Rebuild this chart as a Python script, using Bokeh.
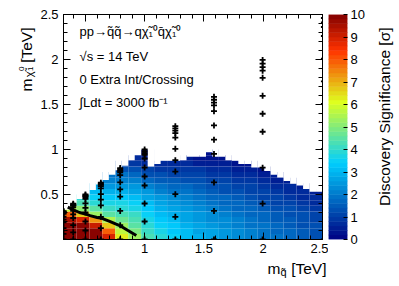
import numpy as np
from bokeh.plotting import figure
from bokeh.models import ColumnDataSource, Range1d, FixedTicker, LinearAxis, Label
from bokeh.layouts import row, column
from bokeh.embed import file_html
from bokeh.resources import INLINE
from bokeh.transform import linear_cmap

FONT = "Liberation Sans"

# ---------------- data ----------------
x_lo, x_hi = 0.316, 2.5          # squark mass range [TeV]
y_lo, y_hi = 0.0, 2.5            # neutralino mass range [TeV]
n_bands = 20                     # squark-mass bands of the significance map
row_h = 0.0625                   # neutralino-mass row height [TeV]

# discovery significance per squark-mass band (rows from m_chi = 0 upward)
sig_0p37 = [12.0, 11.5, 10.8, 9.5, 7.8, 5.8, 4.6]
sig_0p48 = [12.0, 11.5, 10.5, 8.8, 6.6, 5.0, 4.3, 3.8]
sig_0p59 = [11.0, 10.4, 9.2, 7.2, 5.2, 4.4, 3.9, 3.5, 3.1, 2.7]
sig_0p70 = [8.8, 7.8, 6.6, 5.4, 4.6, 4.1, 3.7, 3.3, 2.9, 2.5, 2.1, 1.8]
sig_0p81 = [6.3, 5.8, 5.3, 4.7, 4.3, 3.9, 3.6, 3.3, 2.9, 2.5, 2.1, 1.8, 1.4, 1.1]
sig_0p92 = [5.2, 4.9, 4.6, 4.3, 4.0, 3.7, 3.4, 3.0, 2.7, 2.4, 2.0, 1.6, 1.25, 0.9, 0.6]
sig_1p03 = [4.3, 4.15, 3.95, 3.75, 3.5, 3.25, 3.0, 2.7, 2.4, 2.05, 1.7, 1.35, 1.0, 0.7, 0.5, 0.35]
sig_1p14 = [3.8, 3.7, 3.55, 3.35, 3.15, 2.9, 2.65, 2.4, 2.1, 1.8, 1.5, 1.2, 0.9, 0.6]
sig_1p24 = [3.45, 3.35, 3.2, 3.05, 2.85, 2.65, 2.4, 2.2, 1.95, 1.7, 1.45, 1.15, 0.9, 0.6]
sig_1p35 = [3.15, 3.05, 2.95, 2.8, 2.6, 2.45, 2.25, 2.05, 1.8, 1.6, 1.35, 1.1, 0.85, 0.6, 0.4]
sig_1p46 = [2.9, 2.8, 2.7, 2.55, 2.4, 2.25, 2.05, 1.9, 1.7, 1.5, 1.25, 1.05, 0.8, 0.55, 0.35]
sig_1p57 = [2.65, 2.6, 2.5, 2.35, 2.2, 2.05, 1.9, 1.75, 1.55, 1.35, 1.15, 0.95, 0.75, 0.5, 0.32, 0.25]
sig_1p68 = [2.45, 2.4, 2.3, 2.2, 2.05, 1.9, 1.75, 1.6, 1.4, 1.25, 1.05, 0.85, 0.65, 0.45, 0.3]
sig_1p79 = [2.25, 2.2, 2.1, 2.0, 1.9, 1.75, 1.6, 1.45, 1.3, 1.1, 0.95, 0.75, 0.55, 0.35]
sig_1p90 = [2.1, 2.05, 1.95, 1.85, 1.75, 1.6, 1.45, 1.3, 1.15, 1.0, 0.8, 0.6, 0.45, 0.3]
sig_2p01 = [1.95, 1.9, 1.8, 1.7, 1.6, 1.45, 1.3, 1.15, 1.0, 0.85, 0.65, 0.5, 0.35]
sig_2p12 = [1.8, 1.75, 1.65, 1.55, 1.45, 1.3, 1.15, 1.0, 0.85, 0.7, 0.55, 0.4]
sig_2p23 = [1.7, 1.65, 1.55, 1.45, 1.35, 1.2, 1.05, 0.9, 0.75, 0.6, 0.45]
sig_2p34 = [1.55, 1.5, 1.4, 1.3, 1.2, 1.05, 0.9, 0.75, 0.6, 0.48]
sig_2p45 = [1.4, 1.35, 1.25, 1.15, 1.05, 0.9, 0.75, 0.6, 0.48]
sig_columns = [sig_0p37, sig_0p48, sig_0p59, sig_0p70, sig_0p81, sig_0p92, sig_1p03,
               sig_1p14, sig_1p24, sig_1p35, sig_1p46, sig_1p57, sig_1p68, sig_1p79,
               sig_1p90, sig_2p01, sig_2p12, sig_2p23, sig_2p34, sig_2p45]

# upper edge of the non-zero significance region, 40 narrow squark-mass columns
region_top = [0.33, 0.39, 0.45, 0.50, 0.55, 0.61, 0.66, 0.72, 0.77, 0.82, 0.88, 0.94,
              1.00, 0.81, 0.84, 0.88, 0.88, 0.88, 0.88, 0.92, 0.92, 0.92, 0.97, 0.92,
              0.92, 0.88, 0.88, 0.84, 0.84, 0.80, 0.80, 0.76, 0.72, 0.69, 0.65, 0.62,
              0.60, 0.56, 0.53, 0.53]

# 5 sigma contour
contour_x = [0.352, 0.40, 0.45, 0.51, 0.54, 0.60, 0.64, 0.70, 0.76, 0.80, 0.86, 0.93]
contour_y = [0.36, 0.33, 0.30, 0.28, 0.265, 0.245, 0.235, 0.205, 0.17, 0.148, 0.10, 0.045]

# signal grid points (squark mass, neutralino masses)
grid_msq = [0.316, 0.398, 0.501, 0.631, 0.794, 1.0, 1.259, 1.585, 1.995, 2.512]
grid_mchi = [
    [0, 0.063, 0.126, 0.19, 0.221, 0.253, 0.285, 0.297, 0.304, 0.31, 0.316],
    [0, 0.08, 0.159, 0.239, 0.279, 0.318, 0.358, 0.374, 0.382, 0.39, 0.398],
    [0, 0.1, 0.2, 0.3, 0.351, 0.401, 0.451, 0.471, 0.481, 0.491, 0.501],
    [0, 0.126, 0.252, 0.379, 0.442, 0.505, 0.568, 0.593, 0.606, 0.618, 0.631],
    [0, 0.159, 0.318, 0.477, 0.556, 0.635, 0.715, 0.747, 0.763, 0.778, 0.794],
    [0, 0.2, 0.4, 0.6, 0.7, 0.8, 0.9, 0.94, 0.96, 0.98, 1.0],
    [0, 0.252, 0.504, 0.755, 0.881, 1.007, 1.133, 1.183, 1.209, 1.234, 1.259],
    [0, 0.317, 0.634, 0.951, 1.109, 1.268, 1.426, 1.49, 1.521, 1.553, 1.585],
    [0, 0.399, 0.798, 1.197, 1.397, 1.596, 1.796, 1.876, 1.915, 1.955, 1.995],
    [0, 0.502, 1.005, 1.507, 1.758, 2.009, 2.261, 2.361, 2.411, 2.461, 2.512],
]

x_major = [0.5, 1.0, 1.5, 2.0, 2.5]
x_major_labels = ["0.5", "1", "1.5", "2", "2.5"]
y_major = [0.5, 1.0, 1.5, 2.0, 2.5]
y_major_labels = ["0.5", "1", "1.5", "2", "2.5"]
z_major = [0, 1, 2, 3, 4, 5, 6, 7, 8, 9, 10]
z_lo, z_hi = 0, 10

# ---------------- palette (ROOT-style rainbow) ----------------
stops = [0.0, 0.34, 0.61, 0.84, 1.0]
red = [0.0, 0.0, 0.87, 1.0, 0.51]
green = [0.0, 0.81, 1.0, 0.2, 0.0]
blue = [0.51, 1.0, 0.12, 0.0, 0.0]
NCOL = 50
palette = []
for i in range(NCOL):
    t = (i + 0.5) / NCOL
    rgb = [int(round(255 * np.interp(t, stops, ch))) for ch in (red, green, blue)]
    palette.append("#%02x%02x%02x" % tuple(rgb))

# layout geometry (pixels)
FRAME_W, FRAME_H = 259, 225
TOP_B, BOT_B = 14, 20
ROW1_H = TOP_B + FRAME_H + BOT_B
YT_W, P_LEFT = 37, 26
CB_RIGHT, CT_W = 20, 28


def text_panel(w, h):
    f = figure(frame_width=w, frame_height=h, x_range=Range1d(0, 1), y_range=Range1d(0, 1),
               output_backend="svg", toolbar_location=None, title=None, min_border=0,
               x_axis_location=None, y_axis_location=None, outline_line_color=None,
               background_fill_color="white", border_fill_color="white")
    f.grid.visible = False
    return f


def lab(fig, x, y, text, size, align="left", angle=0.0):
    fig.add_layout(Label(x=x, y=y, x_units="screen", y_units="screen", text=text,
                         text_font=FONT, text_font_size=size, text_color="black",
                         text_align=align, text_baseline="alphabetic", angle=angle))


# ---------------- main figure ----------------
p = figure(frame_width=FRAME_W, frame_height=FRAME_H, x_range=Range1d(x_lo, x_hi),
           y_range=Range1d(y_lo, y_hi), output_backend="svg", toolbar_location=None,
           title=None, min_border_left=P_LEFT, min_border_right=6, min_border_top=TOP_B,
           min_border_bottom=BOT_B, background_fill_color="white", border_fill_color="white")
p.grid.visible = False
p.outline_line_color = "black"

band_w = (x_hi - x_lo) / n_bands
cells = dict(left=[], right=[], bottom=[], top=[], z=[])
for k, col in enumerate(sig_columns):
    for j, z in enumerate(col):
        cells["left"].append(x_lo + k * band_w)
        cells["right"].append(x_lo + (k + 1) * band_w)
        cells["bottom"].append(j * row_h)
        cells["top"].append((j + 1) * row_h)
        cells["z"].append(z)
p.quad(left="left", right="right", bottom="bottom", top="top",
       source=ColumnDataSource(cells),
       fill_color=linear_cmap("z", palette, z_lo, z_hi), line_color=None)

fine_w = band_w / 2
mask = dict(left=[x_lo + i * fine_w for i in range(len(region_top))],
            right=[x_lo + (i + 1) * fine_w for i in range(len(region_top))],
            bottom=region_top, top=[1.01] * len(region_top))
p.quad(left="left", right="right", bottom="bottom", top="top",
       source=ColumnDataSource(mask), fill_color="white", line_color=None)

p.line(contour_x, contour_y, line_color="black", line_width=3)

px, py = [], []
for m, ys in zip(grid_msq, grid_mchi):
    for yv in ys:
        px.append(m)
        py.append(yv)
p.scatter(px, py, marker="cross", size=6, line_color="black", line_width=1.8)

x_minor = [round(0.4 + 0.1 * i, 2) for i in range(22)]
y_minor = [round(0.1 * i, 2) for i in range(26)]


def style_axis(ax, major, minor, labels, show):
    ax.ticker = FixedTicker(ticks=major, minor_ticks=minor)
    ax.major_tick_in = 7
    ax.major_tick_out = 0
    ax.minor_tick_in = 4
    ax.minor_tick_out = 0
    ax.axis_label_standoff = 0
    ax.axis_line_color = "black"
    ax.major_tick_line_color = "black"
    ax.minor_tick_line_color = "black"
    if show:
        ax.major_label_overrides = {v: s for v, s in zip(major, labels)}
        ax.major_label_text_font = FONT
        ax.major_label_text_font_size = "13px"
        ax.major_label_text_color = "black"
    else:
        ax.major_label_overrides = {v: "" for v in major}
        ax.major_label_text_font_size = "1px"
        ax.major_label_standoff = 0


style_axis(p.xaxis[0], x_major, x_minor, x_major_labels, True)
p.xaxis[0].major_label_standoff = 4
style_axis(p.yaxis[0], y_major, y_minor, y_major_labels, True)
p.yaxis[0].major_label_standoff = 5
top_ax = LinearAxis()
style_axis(top_ax, x_major, x_minor, x_major_labels, False)
p.add_layout(top_ax, "above")
right_ax = LinearAxis()
style_axis(right_ax, y_major, y_minor, y_major_labels, False)
p.add_layout(right_ax, "right")

# text block inside the frame
lab(p, 16, 208, "pp\u2192q\u0303q\u0303\u2192q\u03c7\u0303\u2081\u2070q\u0304\u03c7\u0303\u2081\u2070", "13px")
lab(p, 16, 183, "\u221as = 14 TeV", "13px")
lab(p, 16, 160, "0 Extra Int/Crossing", "13px")
lab(p, 16, 137, "\u222bLdt = 3000 fb\u207b\u00b9", "13px")

# ---------------- y-axis title panel (left) ----------------
ytp = text_panel(YT_W, ROW1_H)
rot = np.pi / 2
lab(ytp, 26, 246, "[TeV]", "15.5px", align="right", angle=rot)
lab(ytp, 21, 207, "0", "8px", align="right", angle=rot)
lab(ytp, 29.5, 207, "1", "8px", align="right", angle=rot)
lab(ytp, 28.5, 202, "\u03c7\u0303", "11px", align="right", angle=rot)
lab(ytp, 26, 195, "m", "15.5px", align="right", angle=rot)

# ---------------- colour bar ----------------
cb = figure(frame_width=19, frame_height=FRAME_H, x_range=Range1d(0, 1),
            y_range=Range1d(z_lo, z_hi), output_backend="svg", toolbar_location=None,
            title=None, min_border_left=0, min_border_right=CB_RIGHT, min_border_top=TOP_B,
            min_border_bottom=BOT_B, x_axis_location=None, y_axis_location="right")
cb.grid.visible = False
cb.outline_line_color = None
step = (z_hi - z_lo) / NCOL
cb.quad(left=0, right=1, bottom=[z_lo + i * step for i in range(NCOL)],
        top=[z_lo + (i + 1) * step for i in range(NCOL)], fill_color=palette,
        line_color=palette, line_width=0.5)
ya = cb.yaxis[0]
ya.ticker = FixedTicker(ticks=z_major, minor_ticks=[])
ya.major_tick_in = 4
ya.major_tick_out = 0
ya.axis_label_standoff = 0
ya.axis_line_color = None
ya.major_tick_line_color = "black"
ya.major_label_standoff = 3
ya.major_label_text_font = FONT
ya.major_label_text_font_size = "13px"
ya.major_label_text_color = "black"

# colour-bar title panel (right)
ctp = text_panel(CT_W, ROW1_H)
lab(ctp, 17, 246, "Discovery Significance [\u03c3]", "15.5px", align="right", angle=rot)

# ---------------- x-axis title panel (bottom) ----------------
xtp = text_panel(394, 24)
lab(xtp, 267, 15, "m", "15.5px")
lab(xtp, 280, 11.5, "q\u0303", "11px")
lab(xtp, 326, 15, "[TeV]", "15.5px", align="right")

layout = column(row(ytp, p, cb, ctp), xtp)
open("out.html", "w").write(file_html(layout, INLINE))
